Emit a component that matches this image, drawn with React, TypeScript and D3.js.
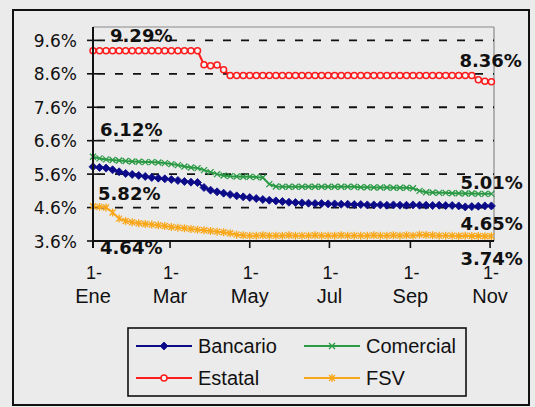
import React from "react";
import * as d3 from "d3";

// ---- data ----
const startDate = new Date(2007, 0, 1);
const stepDays = 5;

const bancario = [
  5.82, 5.80, 5.78, 5.73, 5.67, 5.62, 5.59, 5.56, 5.53, 5.50, 5.48, 5.46, 5.44, 5.41, 5.38, 5.36, 5.35,
  5.20, 5.12, 5.07, 5.03, 4.99, 4.95, 4.92, 4.90, 4.87, 4.84, 4.82, 4.80, 4.78, 4.76, 4.75, 4.74, 4.73,
  4.72, 4.72, 4.71, 4.71, 4.70, 4.70, 4.69, 4.69, 4.68, 4.68, 4.68, 4.67, 4.68, 4.67, 4.67, 4.68,
  4.67, 4.67, 4.66, 4.67, 4.66, 4.66, 4.65, 4.62, 4.63, 4.64, 4.65, 4.65,
];
const comercial = [
  6.12, 6.07, 6.04, 6.02, 6.01, 5.99, 5.98, 5.97, 5.96, 5.96, 5.95, 5.93, 5.90, 5.87, 5.83, 5.80, 5.78,
  5.72, 5.66, 5.60, 5.56, 5.54, 5.53, 5.52, 5.52, 5.51, 5.50, 5.30, 5.23,
  5.22, 5.22, 5.22, 5.22, 5.22, 5.22, 5.22, 5.22, 5.22, 5.22, 5.22, 5.22,
  5.21, 5.21, 5.20, 5.20, 5.20, 5.19, 5.19, 5.19, 5.18,
  5.10, 5.06, 5.05, 5.04, 5.04, 5.03, 5.03, 5.02, 5.02, 5.01, 5.01, 5.01,
];
const estatal = [
  9.29, 9.29, 9.29, 9.29, 9.29, 9.29, 9.29, 9.29, 9.29, 9.29, 9.29, 9.29, 9.29, 9.29, 9.29, 9.29, 9.29,
  8.87, 8.84, 8.86, 8.72,
  8.55, 8.55, 8.55, 8.55, 8.55, 8.55, 8.55, 8.55, 8.55, 8.55, 8.55, 8.55, 8.55, 8.55, 8.55, 8.55, 8.55, 8.55, 8.55,
  8.55, 8.55, 8.55, 8.55, 8.55, 8.55, 8.55, 8.55, 8.55, 8.55, 8.55, 8.55, 8.55, 8.55, 8.55, 8.55, 8.55, 8.55, 8.55,
  8.42, 8.38, 8.36,
];
const fsv = [
  4.64, 4.62, 4.60, 4.45, 4.27, 4.20, 4.16, 4.13, 4.11, 4.09, 4.07, 4.05, 4.02, 4.00, 3.98, 3.96, 3.94, 3.92,
  3.90, 3.88, 3.86, 3.83, 3.79, 3.77,
  3.76, 3.76, 3.77, 3.76, 3.76, 3.76, 3.77, 3.76, 3.76, 3.76,
  3.77, 3.76, 3.76, 3.76, 3.77, 3.76, 3.76, 3.76, 3.76, 3.77,
  3.76, 3.76, 3.77, 3.76, 3.77, 3.76, 3.79, 3.78, 3.77, 3.76,
  3.76, 3.76, 3.75, 3.76, 3.75, 3.75, 3.74, 3.74,
];

const yTicks = [3.6, 4.6, 5.6, 6.6, 7.6, 8.6, 9.6];
const xTickMonths = [0, 2, 4, 6, 8, 10];
const xTickNames = ["Ene", "Mar", "May", "Jul", "Sep", "Nov"];

const seriesNames = ["Bancario", "Comercial", "Estatal", "FSV"];
const seriesData = [bancario, comercial, estatal, fsv];
const seriesColors = ["#0b0b8a", "#2b9a45", "#ff1c1c", "#f8a81a"];
const seriesMarkers = ["diamond", "x", "circle", "star"];

// data labels: [text, series index, point: "first"|"last", dx, dy]
const dataLabels: [string, number, string, number, number][] = [
  ["9.29%", 2, "first", 17, -9],
  ["6.12%", 1, "first", 7, -21],
  ["5.82%", 0, "first", 5, 33],
  ["4.64%", 3, "first", 7, 48],
  ["8.36%", 2, "last", -32, -15],
  ["5.01%", 1, "last", -31, -5],
  ["4.65%", 0, "last", -31, 24],
  ["3.74%", 3, "last", -31, 28.5],
];

const FONT = "'Liberation Sans', Arial, Helvetica, sans-serif";
const WIDE = "'DejaVu Sans', Verdana, sans-serif";

function Marker({ type, x, y, color }: { type: string; x: number; y: number; color: string }) {
  if (type === "diamond") {
    return <path d={`M${x},${y - 4}L${x + 4},${y}L${x},${y + 4}L${x - 4},${y}Z`} fill={color} stroke={color} strokeWidth={0.8} />;
  }
  if (type === "circle") {
    return <circle cx={x} cy={y} r={3} fill="#f4f4f4" stroke={color} strokeWidth={1.5} />;
  }
  if (type === "x") {
    return (
      <path
        d={`M${x - 3},${y - 3}L${x + 3},${y + 3}M${x - 3},${y + 3}L${x + 3},${y - 3}`}
        stroke={color}
        strokeWidth={1.3}
        fill="none"
      />
    );
  }
  return (
    <path
      d={`M${x - 3},${y - 3}L${x + 3},${y + 3}M${x - 3},${y + 3}L${x + 3},${y - 3}M${x},${y - 4}L${x},${y + 4}`}
      stroke={color}
      strokeWidth={1.3}
      fill="none"
    />
  );
}

export default function App() {
  const W = 535;
  const H = 407;
  const left = 93;
  const right = 494;
  const top = 27;
  const bottom = 241;

  const x = d3
    .scaleTime()
    .domain([startDate, d3.timeDay.offset(startDate, 307)])
    .range([left, right]);
  const y = d3.scaleLinear().domain([3.6, 10.0]).range([bottom, top]);

  const dateAt = (i: number) => d3.timeDay.offset(startDate, i * stepDays);

  const line = d3
    .line<number>()
    .x((_, i) => x(dateAt(i)))
    .y((v) => y(v));

  const legendItems = seriesNames.map((name, k) => ({
    name,
    color: seriesColors[k],
    marker: seriesMarkers[k],
    col: k % 2,
    row: Math.floor(k / 2),
  }));

  return (
    <svg
      width={W}
      height={H}
      style={{ position: "absolute", left: 0, top: 0, background: "#ebebeb" }}
      fontFamily={FONT}
    >
      <rect x={0} y={0} width={W} height={H} fill="#ebebeb" />
      {/* outer frame */}
      <rect x={13} y={10} width={516} height={395} fill="none" stroke="#111" strokeWidth={2} />

      {/* plot frame (top/right) */}
      <line x1={left} x2={right} y1={top} y2={top} stroke="#8a8a8a" strokeWidth={1.2} />
      <line x1={right} x2={right} y1={top} y2={bottom} stroke="#8a8a8a" strokeWidth={1.2} />

      {/* gridlines */}
      {yTicks.filter((t) => t > 3.6).map((t) => (
        <line
          key={"g" + t}
          x1={left}
          x2={right}
          y1={y(t)}
          y2={y(t)}
          stroke="#111"
          strokeWidth={1.8}
          strokeDasharray="8,10"
          strokeDashoffset={-4}
        />
      ))}

      {/* y ticks & labels */}
      {yTicks.map((t) => (
        <g key={"yt" + t}>
          <line x1={left - 6} x2={left + 4} y1={y(t)} y2={y(t)} stroke="#111" strokeWidth={1.6} />
          <text
            x={77}
            y={y(t) + 6.5}
            textAnchor="end"
            fontSize={17}
            fontFamily={WIDE}
            fill="#111"
          >
            {t.toFixed(1)}%
          </text>
        </g>
      ))}

      {/* x ticks & labels */}
      {xTickMonths.map((m, k) => {
        const xx = x(new Date(startDate.getFullYear(), m, 1));
        return (
          <g key={"xt" + m}>
            <line x1={xx} x2={xx} y1={bottom} y2={bottom + 7} stroke="#111" strokeWidth={1.6} />
            <text x={xx + 1} y={279} textAnchor="middle" fontSize={18} fill="#111">
              1-
            </text>
            <text x={xx} y={303} textAnchor="middle" fontSize={20} fill="#111">
              {xTickNames[k]}
            </text>
          </g>
        );
      })}

      {/* series */}
      {seriesData.map((vals, k) => (
        <g key={"s" + k}>
          <path d={line(vals) || ""} fill="none" stroke={seriesColors[k]} strokeWidth={2} />
          {vals.map((v, i) => (
            <Marker key={i} type={seriesMarkers[k]} x={x(dateAt(i))} y={y(v)} color={seriesColors[k]} />
          ))}
        </g>
      ))}

      {/* axes */}
      <line x1={left} x2={left} y1={top} y2={bottom + 7} stroke="#111" strokeWidth={2} />
      <line x1={left} x2={right} y1={bottom} y2={bottom} stroke="#111" strokeWidth={2} />

      {/* data labels */}
      {dataLabels.map(([txt, s, which, dx, dy]) => {
        const vals = seriesData[s];
        const i = which === "first" ? 0 : vals.length - 1;
        return (
          <text
            key={txt}
            x={x(dateAt(i)) + dx}
            y={y(vals[i]) + dy}
            fontSize={18}
            fontWeight="bold"
            fontFamily={WIDE}
            fill="#111"
          >
            {txt}
          </text>
        );
      })}

      {/* legend */}
      <rect x={128} y={328} width={338} height={68} fill="none" stroke="#111" strokeWidth={1.6} />
      {legendItems.map((it) => {
        const lx = 136 + it.col * 168;
        const ly = 346 + it.row * 32;
        return (
          <g key={it.name}>
            <line x1={lx} x2={lx + 56} y1={ly} y2={ly} stroke={it.color} strokeWidth={2} />
            <Marker type={it.marker} x={lx + 28} y={ly} color={it.color} />
            <text x={lx + 62} y={ly + 7} fontSize={20} fill="#111">
              {it.name}
            </text>
          </g>
        );
      })}
    </svg>
  );
}
